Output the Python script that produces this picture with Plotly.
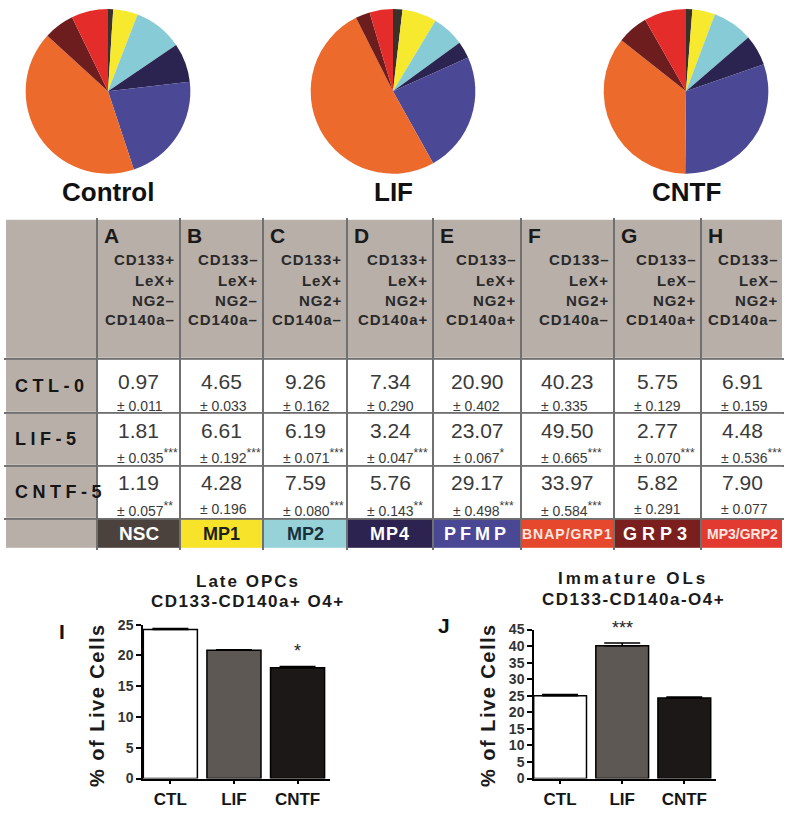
import plotly.graph_objects as go

W, H = 800, 813

# ---------------- data ----------------
populations = ["NSC", "MP1", "MP2", "MP4", "PFMP", "BNAP/GRP1", "GRP3", "MP3/GRP2"]
panel_letters = ["A", "B", "C", "D", "E", "F", "G", "H"]
cd133 = ["CD133+", "CD133–", "CD133+", "CD133+", "CD133–", "CD133–", "CD133–", "CD133–"]
lex = ["LeX+", "LeX+", "LeX+", "LeX+", "LeX+", "LeX+", "LeX–", "LeX–"]
ng2 = ["NG2–", "NG2–", "NG2+", "NG2+", "NG2+", "NG2+", "NG2+", "NG2+"]
cd140a = ["CD140a–", "CD140a–", "CD140a–", "CD140a+", "CD140a+", "CD140a–", "CD140a+", "CD140a–"]

conditions = ["CTL-0", "LIF-5", "CNTF-5"]
pie_titles = ["Control", "LIF", "CNTF"]

ctl_mean = [0.97, 4.65, 9.26, 7.34, 20.90, 40.23, 5.75, 6.91]
ctl_sem = [0.011, 0.033, 0.162, 0.290, 0.402, 0.335, 0.129, 0.159]
ctl_sig = ["", "", "", "", "", "", "", ""]

lif_mean = [1.81, 6.61, 6.19, 3.24, 23.07, 49.50, 2.77, 4.48]
lif_sem = [0.035, 0.192, 0.071, 0.047, 0.067, 0.665, 0.070, 0.536]
lif_sig = ["***", "***", "***", "***", "*", "***", "***", "***"]

cntf_mean = [1.19, 4.28, 7.59, 5.76, 29.17, 33.97, 5.82, 7.90]
cntf_sem = [0.057, 0.196, 0.080, 0.143, 0.498, 0.584, 0.291, 0.077]
cntf_sig = ["**", "", "***", "**", "***", "***", "", ""]

groups = ["CTL", "LIF", "CNTF"]
late_opc_mean = [24.2, 20.85, 18.0]
late_opc_sem = [0.15, 0.08, 0.2]
late_opc_sig = ["", "", "*"]
imm_ol_mean = [25.0, 40.1, 24.3]
imm_ol_sem = [0.4, 0.8, 0.3]
imm_ol_sig = ["", "***", ""]

# ---------------- styles / layout constants ----------------
FONT = "Liberation Sans, Arial, sans-serif"
pie_colors = ["#3a302c", "#f7e92e", "#86cbd6", "#2b2350", "#4b4895", "#ec6a2b", "#6d1d1d", "#e42d2a"]
label_colors = ["#4b423e", "#f6e32a", "#98d2d9", "#2c2350", "#4a4795", "#e5482d", "#7a1f1e", "#e23a30"]
label_font_colors = ["white", "#1e1e1e", "#17303a", "white", "white", "#fbe6e0", "white", "#fbe6e0"]
label_font_sizes = [19, 18, 18, 18, 18, 14, 18, 14]
label_spacing = [0, 0, 0, 1, 4, 1, 5, 0]
HEADER_GRAY = "#b8afa9"
BORDER = "#707070"
bar_colors = ["white", "#5e5855", "#1b1817"]

PIE_CX = [108, 393, 686]
PIE_CY = 85
PIE_R = 84
PIE_LABEL_Y = 188

TABLE_X = [5, 97, 180, 263, 347, 433, 521, 614, 701, 783]
TABLE_Y = [215, 358, 413, 467, 521, 552]
VAL_OFF = [22.5, 17.5, 17.5]
SEM_OFF = [47.5, 44.0, 44.0]


def ls(text, px):
    return f'<span style="letter-spacing:{px}px">{text}</span>'


fig = go.Figure()
ann = []

# ---------------- pies ----------------
all_means = [ctl_mean, lif_mean, cntf_mean]
for k, (vals, title) in enumerate(zip(all_means, pie_titles)):
    cx = PIE_CX[k]
    fig.add_trace(go.Pie(
        values=vals, labels=populations, sort=False, direction="clockwise", rotation=0,
        marker=dict(colors=pie_colors, line=dict(width=0)), textinfo="none",
        hoverinfo="label+value", showlegend=False,
        domain=dict(x=[(cx - PIE_R) / W, (cx + PIE_R) / W],
                    y=[1 - (PIE_CY + PIE_R) / H, 1 - (PIE_CY - PIE_R) / H])))
    ann.append(dict(text=f"<b>{title}</b>", x=cx / W, y=1 - PIE_LABEL_Y / H, xref="paper", yref="paper",
                    showarrow=False, xanchor="center", yanchor="middle",
                    font=dict(family=FONT, size=26, color="#111111")))

# ---------------- table (heatmap cells) ----------------
ncols = len(TABLE_X) - 1
z = [[0] * ncols]
for _ in conditions:
    z.append([0] + [1] * (ncols - 1))
z.append([0] + [2 + i for i in range(len(populations))])
code_colors = [HEADER_GRAY, "white"] + label_colors
n = len(code_colors)
cs = []
for i, c in enumerate(code_colors):
    cs += [[i / n, c], [(i + 1) / n, c]]
fig.add_trace(go.Heatmap(z=z, x=TABLE_X, y=TABLE_Y, colorscale=cs, zmin=-0.5, zmax=n - 0.5,
                         showscale=False, xgap=2, ygap=2, hoverinfo="skip",
                         xaxis="x3", yaxis="y3"))

xc = [(TABLE_X[i] + TABLE_X[i + 1]) / 2 for i in range(ncols)]
yc = [(TABLE_Y[i] + TABLE_Y[i + 1]) / 2 for i in range(len(TABLE_Y) - 1)]

def tann(text, x, y, size, color="#222222", xanchor="center", bold=False, family=FONT):
    t = f"<b>{text}</b>" if bold else text
    ann.append(dict(text=t, x=x, y=y, xref="x3", yref="y3", showarrow=False,
                    xanchor=xanchor, yanchor="middle", font=dict(family=family, size=size, color=color)))

# header
marker_lines = [cd133, lex, ng2, cd140a]
marker_y = [257, 278, 298, 318]
for j in range(len(populations)):
    left = TABLE_X[j + 1]
    right = TABLE_X[j + 2]
    tann(panel_letters[j], left + 5, 232, 21, "#1a1a1a", "left", True)
    for lines, my in zip(marker_lines, marker_y):
        tann(ls(lines[j], 0.9), right - 3, my, 15, "#2a2a2a", "right", True)

# data rows
rows = [(ctl_mean, ctl_sem, ctl_sig), (lif_mean, lif_sem, lif_sig), (cntf_mean, cntf_sem, cntf_sig)]
for r, (name, (m, s, sig)) in enumerate(zip(conditions, rows)):
    top = TABLE_Y[r + 1]
    tann(ls(name, 4.5), TABLE_X[0] + 8, yc[r + 1], 18, "#151515", "left", True)
    for j in range(len(populations)):
        tann(f"{m[j]:.2f}", xc[j + 1], top + VAL_OFF[r], 21, "#3a3a3a")
        stars = f'<sup><span style="font-size:12px">{sig[j]}</span></sup>' if sig[j] else ""
        tann(f"± {s[j]:.3f}{stars}", TABLE_X[j + 1] + 18, top + SEM_OFF[r], 14, "#3a3a3a", "left")

# population label row
for j, pop in enumerate(populations):
    tann(ls(pop, label_spacing[j]), xc[j + 1], yc[-1], label_font_sizes[j], label_font_colors[j], "center", True)

# ---------------- bar charts ----------------
def bar_panel(means, sems, sigs, xa, ya):
    fig.add_trace(go.Bar(
        x=groups, y=means, marker=dict(color=bar_colors, line=dict(color="black", width=1.5)),
        error_y=dict(type="data", array=sems, arrayminus=[0] * len(sems), symmetric=False,
                     color="black", thickness=1.5, width=18),
        width=0.85, showlegend=False, xaxis=xa, yaxis=ya, hoverinfo="x+y"))
    for g, mv, sv, st in zip(groups, means, sems, sigs):
        if st:
            ann.append(dict(text=st, x=g, y=mv + sv, xref=xa, yref=ya, showarrow=False,
                            xanchor="center", yanchor="bottom", yshift=3,
                            font=dict(family=FONT, size=18, color="#222222")))

bar_panel(late_opc_mean, late_opc_sem, late_opc_sig, "x", "y")
bar_panel(imm_ol_mean, imm_ol_sem, imm_ol_sig, "x2", "y2")

axis_common = dict(showline=True, linecolor="black", linewidth=1.5, showgrid=False, zeroline=False,
                   ticks="outside", tickcolor="black", tickwidth=1.5, fixedrange=True)

def ptitle(lines, cx, ys, spacing):
    for t, yy, sp in zip(lines, ys, spacing):
        ann.append(dict(text=f"<b>{ls(t, sp)}</b>", x=cx / W, y=1 - yy / H, xref="paper", yref="paper",
                        showarrow=False, xanchor="center", yanchor="middle",
                        font=dict(family=FONT, size=17, color="#1a1a1a")))

ptitle(["Late OPCs", "CD133-CD140a+ O4+"], 248, [585, 605], [2, 1.5])
ptitle(["Immature OLs", "CD133-CD140a-O4+"], 633, [582, 603], [3, 1.5])

for letter, lx, ly in [("I", 62, 636), ("J", 444, 630)]:
    ann.append(dict(text=f"<b>{letter}</b>", x=lx / W, y=1 - ly / H, xref="paper", yref="paper",
                    showarrow=False, xanchor="center", yanchor="middle",
                    font=dict(family=FONT, size=21, color="#111111")))

for tx in [97, 488]:
    ann.append(dict(text=f"<b>{ls('% of Live Cells', 1.5)}</b>", x=tx / W, y=1 - 711 / H, xref="paper",
                    yref="paper", showarrow=False, textangle=-90, xanchor="center", yanchor="middle",
                    font=dict(family=FONT, size=20, color="#1a1a1a")))

fig.update_layout(
    width=W, height=H, margin=dict(l=0, r=0, t=0, b=0),
    paper_bgcolor="white", plot_bgcolor="white", showlegend=False,
    font=dict(family=FONT),
    xaxis=dict(domain=[143 / W, 330 / W], range=[-0.43, 2.51], anchor="y", ticklen=4,
               tickfont=dict(family=FONT, size=17, color="#151515", weight="bold"), **axis_common),
    yaxis=dict(domain=[1 - 786 / H, 1 - 629 / H], range=[0, 25], dtick=5, anchor="x", ticklen=5,
               tickfont=dict(family=FONT, size=14, color="#333333", weight="bold"), **axis_common),
    xaxis2=dict(domain=[534 / W, 716 / W], range=[-0.42, 2.51], anchor="y2", ticklen=4,
                tickfont=dict(family=FONT, size=17, color="#151515", weight="bold"), **axis_common),
    yaxis2=dict(domain=[1 - 786 / H, 1 - 634 / H], range=[0, 45], dtick=5, anchor="x2", ticklen=5,
                tickfont=dict(family=FONT, size=14, color="#333333", weight="bold"), **axis_common),
    xaxis3=dict(domain=[(TABLE_X[0] - 1) / W, (TABLE_X[-1] + 1) / W],
                range=[TABLE_X[0] - 1, TABLE_X[-1] + 1], tickvals=TABLE_X, showticklabels=False,
                ticks="", showgrid=True, gridcolor=BORDER, gridwidth=2, zeroline=False,
                showline=False, anchor="y3", fixedrange=True),
    yaxis3=dict(domain=[1 - (TABLE_Y[-1] + 1) / H, 1 - (TABLE_Y[0] - 1) / H],
                range=[TABLE_Y[-1] + 1, TABLE_Y[0] - 1], tickvals=TABLE_Y, showticklabels=False,
                ticks="", showgrid=True, gridcolor=BORDER, gridwidth=2, zeroline=False,
                showline=False, anchor="x3", fixedrange=True),
    annotations=ann,
)

fig.write_html("out.html", config={"displayModeBar": False},
               post_script="document.body.style.margin='0px';document.body.style.padding='0px';"
                           "document.body.style.overflow='hidden';")
